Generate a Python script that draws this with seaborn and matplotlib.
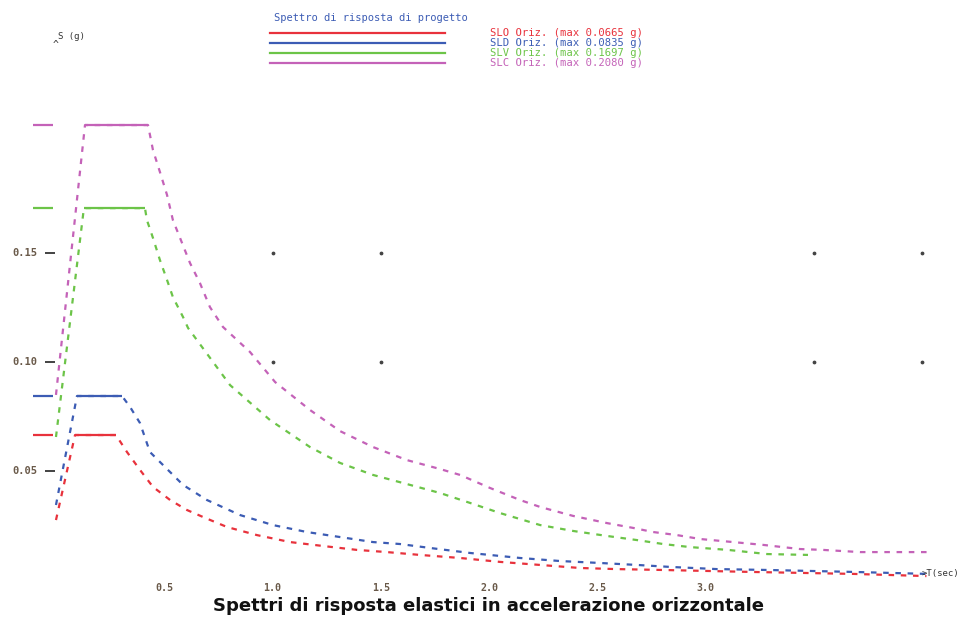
import numpy as np
import pandas as pd
import seaborn as sns
import matplotlib.pyplot as plt
from matplotlib.lines import Line2D

# Spectra: period T (s) and Sa (g)
slo_T = [0.0, 0.088, 0.277, 0.328, 0.388, 0.448, 0.527, 0.605, 0.679, 0.790, 0.928, 1.081, 1.233,
         1.390, 1.529, 1.681, 1.866, 2.051, 2.236, 2.420, 2.590, 2.800, 3.210, 3.680, 4.020]
slo_Sa = [0.0275, 0.0665, 0.0665, 0.0587, 0.0505, 0.0427, 0.0367, 0.0321, 0.0289, 0.0243, 0.0206,
          0.0174, 0.0156, 0.0138, 0.0128, 0.0115, 0.0101, 0.0083, 0.0069, 0.0055, 0.0050, 0.0046,
          0.0037, 0.0028, 0.0018]

sld_T = [0.0, 0.097, 0.305, 0.342, 0.388, 0.434, 0.508, 0.587, 0.697, 0.850, 1.002, 1.159, 1.312,
         1.464, 1.589, 1.727, 1.912, 2.143, 2.328, 2.513, 2.684, 2.836, 3.053, 3.284, 3.681, 4.020]
sld_Sa = [0.0344, 0.0844, 0.0844, 0.0794, 0.0720, 0.0587, 0.0514, 0.0436, 0.0367, 0.0298, 0.0252,
          0.0220, 0.0197, 0.0174, 0.0165, 0.0147, 0.0124, 0.0101, 0.0087, 0.0078, 0.0069, 0.0060,
          0.0050, 0.0046, 0.0037, 0.0028]

slv_T = [0.0, 0.129, 0.411, 0.420, 0.448, 0.480, 0.513, 0.540, 0.587, 0.610, 0.804, 0.988, 1.173,
         1.312, 1.464, 1.621, 1.774, 1.926, 2.051, 2.236, 2.388, 2.545, 2.684, 2.804, 2.928, 3.104,
         3.284, 3.473]
slv_Sa = [0.0656, 0.1706, 0.1706, 0.1651, 0.1569, 0.1468, 0.1376, 0.1298, 0.1206, 0.1156, 0.0894,
          0.0734, 0.0610, 0.0537, 0.0482, 0.0440, 0.0399, 0.0349, 0.0307, 0.0252, 0.0225, 0.0202,
          0.0183, 0.0165, 0.0151, 0.0138, 0.0119, 0.0115]

slc_T = [0.0, 0.134, 0.425, 0.448, 0.480, 0.513, 0.540, 0.573, 0.619, 0.665, 0.711, 0.771, 0.896,
         1.012, 1.173, 1.312, 1.464, 1.621, 1.774, 1.866, 2.005, 2.143, 2.236, 2.388, 2.545, 2.665,
         2.758, 2.868, 2.975, 3.127, 3.266, 3.436, 3.543, 3.714, 4.023]
slc_Sa = [0.0849, 0.2087, 0.2087, 0.1972, 0.1872, 0.1766, 0.1651, 0.1569, 0.1454, 0.1362, 0.1252,
          0.1161, 0.1046, 0.0908, 0.0780, 0.0683, 0.0610, 0.0550, 0.0509, 0.0482, 0.0422, 0.0367,
          0.0335, 0.0294, 0.0261, 0.0239, 0.0220, 0.0206, 0.0188, 0.0174, 0.0161, 0.0142, 0.0138,
          0.0128, 0.0128]

names = ['SLO', 'SLD', 'SLV', 'SLC']
labels = ['SLO Oriz. (max 0.0665 g)', 'SLD Oriz. (max 0.0835 g)',
          'SLV Oriz. (max 0.1697 g)', 'SLC Oriz. (max 0.2080 g)']
colors = ['#e8323c', '#3c5cb4', '#6cc448', '#c462b8']

x_ticks = [0.5, 1.0, 1.5, 2.0, 2.5, 3.0]
y_ticks = [0.05, 0.10, 0.15]
grid_T = [1.0, 1.5, 3.5, 4.0]
grid_Sa = [0.10, 0.15]

series = [(slo_T, slo_Sa), (sld_T, sld_Sa), (slv_T, slv_Sa), (slc_T, slc_Sa)]
df = pd.concat([pd.DataFrame({'T': t, 'Sa': s, 'spettro': n})
                for n, (t, s) in zip(names, series)], ignore_index=True)

fig = plt.figure(figsize=(9.61, 6.18), dpi=100)
ax = fig.add_axes([0.02445, 0.0615, 0.9576, 0.776])
mono = 'DejaVu Sans Mono'

sns.lineplot(data=df, x='T', y='Sa', hue='spettro', palette=dict(zip(names, colors)),
             sort=False, legend=False, ax=ax, linewidth=1.6, linestyle=(0, (2.5, 3)))

# plateau segments drawn solid, plus the short marks left of the axis
for (t, s), c in zip(series, colors):
    ax.plot(t[1:3], s[1:3], color=c, linewidth=1.6, solid_capstyle='butt')
    ax.hlines(s[1], -0.106, -0.014, color=c, linewidth=1.6, clip_on=False)

gx, gy = np.meshgrid(grid_T, grid_Sa)
ax.scatter(gx.ravel(), gy.ravel(), s=3, color='#444444', zorder=3, clip_on=False)

ax.set_xlim(-0.15, 4.1)
ax.set_ylim(0, 0.22)
ax.set_xticks([])
ax.set_yticks([])
ax.set_xlabel('')
ax.set_ylabel('')
for sp in ax.spines.values():
    sp.set_visible(False)

for v in y_ticks:
    ax.text(-0.2, v, f'{v:.2f}', family=mono, fontsize=7.5, fontweight='bold',
            color='#6a5a4a', ha='left', va='center', clip_on=False)
    ax.hlines(v, -0.05, -0.005, color='#222222', linewidth=1.2, clip_on=False)
for v in x_ticks:
    ax.text(v, -0.0035, f'{v:.1f}', family=mono, fontsize=7.2, fontweight='bold',
            color='#6a5a4a', ha='center', va='center', clip_on=False)

ax.text(0.01, 0.2495, 'S (g)', family=mono, fontsize=6.5, color='#333333', ha='left', va='center',
        clip_on=False)
ax.text(0.0, 0.2455, '^', family=mono, fontsize=7, color='#333333', ha='center', va='center',
        clip_on=False)
ax.text(4.0, 0.003, '>T(sec)', family=mono, fontsize=6.5, color='#333333', ha='left', va='center',
        clip_on=False)

# legend block at the top
fig.text(274 / 961, 1 - 18 / 618, 'Spettro di risposta di progetto', family=mono, fontsize=7.5,
         color='#3c5cb4', ha='left', va='center')
for i, (lab, c) in enumerate(zip(labels, colors)):
    yf = 1 - (33 + 10 * i) / 618
    fig.add_artist(Line2D([270 / 961, 445 / 961], [yf, yf], color=c, linewidth=1.6))
    fig.text(490 / 961, yf, lab, family=mono, fontsize=7.6, color=c, ha='left', va='center')

fig.text(0.508, 1 - 606 / 618, 'Spettri di risposta elastici in accelerazione orizzontale',
         fontsize=13, fontweight='bold', ha='center', va='center', color='#111111')

fig.savefig('out.png', dpi=100)
